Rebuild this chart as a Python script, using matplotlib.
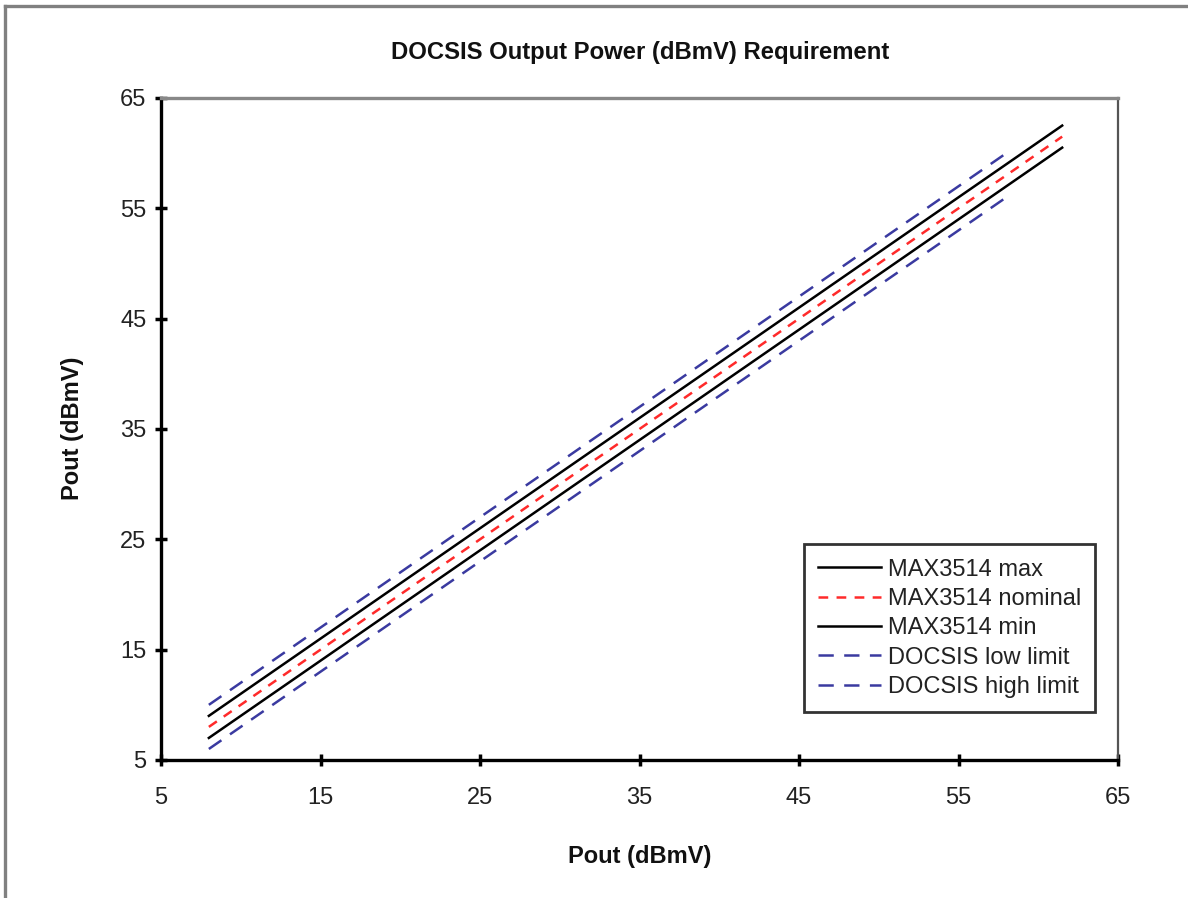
import matplotlib
matplotlib.use("Agg")
import matplotlib.pyplot as plt
from matplotlib.lines import Line2D

plt.rcParams['font.family'] = ['Liberation Sans', 'DejaVu Sans']
plt.rcParams['lines.scale_dashes'] = False

# Data
pin_max3514 = [8, 15, 25, 35, 45, 55, 61.5]
max3514_max = [9, 16, 26, 36, 46, 56, 62.5]
max3514_nom = [8, 15, 25, 35, 45, 55, 61.5]
max3514_min = [7, 14, 24, 34, 44, 54, 60.5]
pin_docsis = [8, 15, 25, 35, 45, 55, 58]
docsis_low = [6, 13, 23, 33, 43, 53, 56]
docsis_high = [10, 17, 27, 37, 47, 57, 60]
ticks = [5, 15, 25, 35, 45, 55, 65]

fig = plt.figure(figsize=(11.88, 8.98), dpi=100)
ax = fig.add_axes([161/1188, 1-760/898, (1118-161)/1188, (760-98)/898])

blue = '#3a3aa0'
red = '#ff2a2a'
lw = 1.8
ax.plot(pin_max3514, max3514_max, color='black', lw=lw, label='MAX3514 max')
ax.plot(pin_max3514, max3514_nom, color=red, lw=lw, dashes=(7, 6), label='MAX3514 nominal')
ax.plot(pin_max3514, max3514_min, color='black', lw=lw, label='MAX3514 min')
ax.plot(pin_docsis, docsis_low, color=blue, lw=lw, dashes=(11, 7.5), label='DOCSIS low limit')
ax.plot(pin_docsis, docsis_high, color=blue, lw=lw, dashes=(11, 7.5), label='DOCSIS high limit')

ax.set_xlim(5, 65)
ax.set_ylim(5, 65)
ax.set_xticks(ticks)
ax.set_yticks(ticks)
ax.tick_params(direction='inout', length=9, width=2.5, labelsize=17, colors='black')
ax.tick_params(axis='y', pad=6)
ax.tick_params(axis='x', pad=15)
for lab in ax.get_xticklabels() + ax.get_yticklabels():
    lab.set_color('#222222')

ax.spines['left'].set_linewidth(2.4)
ax.spines['bottom'].set_linewidth(2.4)
ax.spines['top'].set_color('#888888')
ax.spines['top'].set_linewidth(2.4)
ax.spines['right'].set_color('#555555')
ax.spines['right'].set_linewidth(1.6)

leg = ax.legend(loc='lower right', bbox_to_anchor=(1095/1188, 1-712/898), bbox_transform=fig.transFigure,
                fontsize=17, frameon=True, fancybox=False, edgecolor='black', handlelength=2.65,
                handletextpad=0.3, labelspacing=0.31, borderpad=0.6, borderaxespad=0)
leg.get_frame().set_linewidth(2.0)
for t in leg.get_texts():
    t.set_color('#222222')

fig.text(640/1188, 1-52/898, 'DOCSIS Output Power (dBmV) Requirement', ha='center', va='center',
         fontsize=17.2, fontweight='bold', color='#111111')
fig.text(640/1188, 1-857/898, 'Pout (dBmV)', ha='center', va='center', fontsize=17,
         fontweight='bold', color='#111111')
fig.text(72/1188, 1-428/898, 'Pout (dBmV)', ha='center', va='center', rotation=90, fontsize=17,
         fontweight='bold', color='#111111')

# Figure border (top and left)
fig.add_artist(Line2D([5/1188, 1], [1-6/898, 1-6/898], transform=fig.transFigure, color='#808080', lw=2.4))
fig.add_artist(Line2D([5/1188, 5/1188], [0, 1-6/898], transform=fig.transFigure, color='#808080', lw=2.4))

fig.savefig('out.png', dpi=100)
